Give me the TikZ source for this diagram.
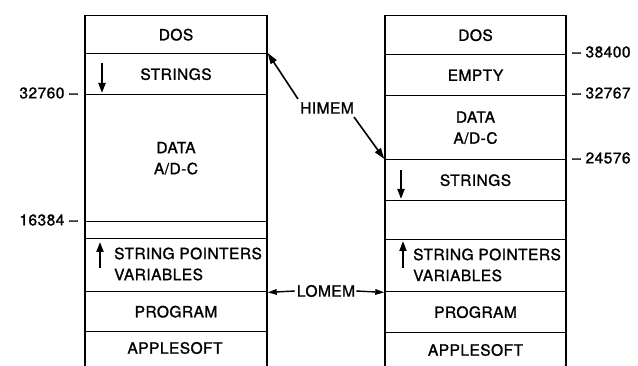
\documentclass[tikz,border=0pt]{standalone}
\usepackage{fontspec}
\setmainfont[LetterSpace=3,FakeBold=1.3]{TeX Gyre Heros}
\usetikzlibrary{arrows.meta}

\begin{document}
\begin{tikzpicture}[x=1pt,y=-1pt,
  every node/.style={font=\fontsize{15.5}{21}\selectfont, inner sep=0pt},
  cell/.style={draw, line width=1.4pt, anchor=north, align=center},
  lcell/.style={cell, minimum width=182pt},
  rcell/.style={cell, minimum width=181pt},
  growarrow/.style={line width=2pt, -{Triangle[length=10pt,width=7pt]}},
  ptrarrow/.style={line width=1.6pt, -{Triangle[length=11pt,width=7pt]}},
  memarrow/.style={line width=1.4pt, -{Triangle[length=9pt,width=5.5pt]}}
]
\useasboundingbox (0,0) rectangle (638,366);
\clip (0,0) rectangle (638,366);

% left memory map
\node[lcell, minimum height=38pt]  (lDOS)  at (176,15)  {DOS};
\node[lcell, minimum height=41pt]  (lSTR)  at (176,53)  {STRINGS};
\node[lcell, minimum height=127pt] (lDATA) at (176,94)  {DATA\\A/D-C};
\node[lcell, minimum height=17pt]  (lGAP)  at (176,221) {};
\node[lcell, minimum height=53pt]  (lSP)   at (176,238) {};
\node[lcell, minimum height=40pt]  (lPRG)  at (176,291) {PROGRAM};
\node[lcell, minimum height=50pt]  (lAPP)  at (176,331) {};
\node[anchor=west, align=left] (lSPt) at (114,264) {STRING POINTERS\\VARIABLES};
\node (lAPPt) at (175,348) {APPLESOFT};

% right memory map
\node[rcell, minimum height=39pt]  (rDOS)  at (475.5,15)  {DOS};
\node[rcell, minimum height=41pt]  (rEMP)  at (475.5,54)  {EMPTY};
\node[rcell, minimum height=64pt]  (rDATA) at (475.5,95)  {DATA\\A/D-C};
\node[rcell, minimum height=41pt]  (rSTR)  at (475.5,159) {STRINGS};
\node[rcell, minimum height=39pt]  (rGAP)  at (475.5,200) {};
\node[rcell, minimum height=52pt]  (rSP)   at (475.5,239) {};
\node[rcell, minimum height=41pt]  (rPRG)  at (475.5,291) {PROGRAM};
\node[rcell, minimum height=50pt]  (rAPP)  at (475.5,332) {};
\node[anchor=west, align=left] (rSPt) at (413,265) {STRING POINTERS\\VARIABLES};
\node (rAPPt) at (475.5,350) {APPLESOFT};

% growth directions
\draw[growarrow] (102,63) -- (102,93);
\draw[growarrow] (100,268) -- (100,242);
\draw[growarrow] (401,170) -- (401,199);
\draw[growarrow] (403,268) -- (403,241);

% address marks
\node[anchor=east] (a32760) at (78,93)  {32760 –};
\node[anchor=east] (a16384) at (78,220) {16384 –};
\node[anchor=west] (a38400) at (572,52)  {– 38400};
\node[anchor=west] (a32767) at (572,93)  {– 32767};
\node[anchor=west] (a24576) at (572,158) {– 24576};

% pointers
\node (himem) at (327,108) {HIMEM};
\node (lomem) at (326,291) {LOMEM};
\coordinate (hl) at (298,99);
\coordinate (hr) at (354,117);
\draw[ptrarrow] (hl) -- (lSTR.north east);
\draw[ptrarrow] (hr) -- (rSTR.north west);
\draw[memarrow] (lomem.west) ++(-2,0) -- (lSP.south east);
\draw[memarrow] (lomem.east) ++(1,0) -- (rSP.south west);
\end{tikzpicture}
\end{document}
